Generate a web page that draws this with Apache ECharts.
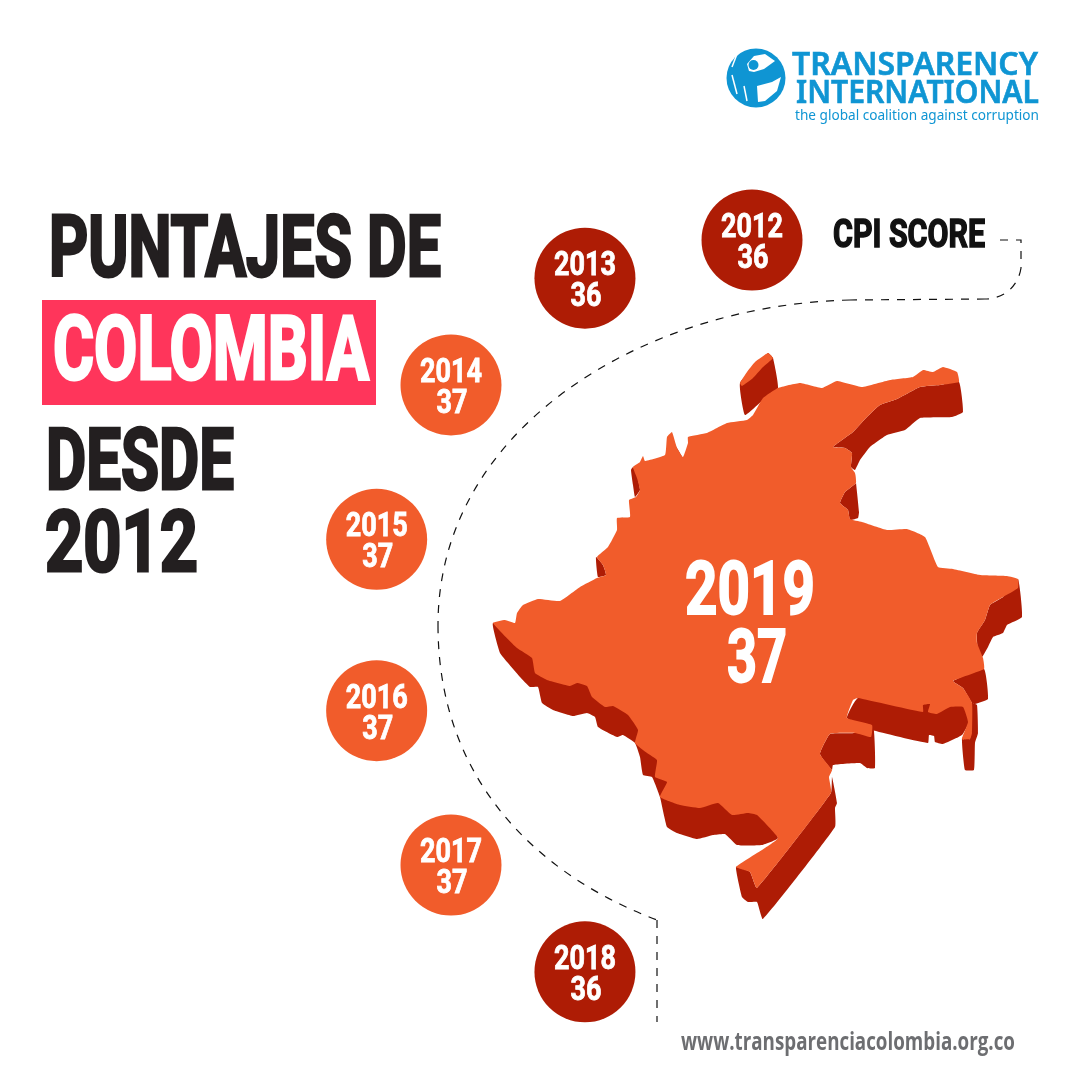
<!DOCTYPE html>
<html lang="es">
<head>
    <meta charset="UTF-8">
    <title>Puntajes de Colombia desde 2012</title>
    <script type="text/javascript" src="https://cdn.jsdelivr.net/npm/echarts@6/dist/echarts.min.js"></script>
    <style>html,body{margin:0;padding:0;background:#fff;}</style>
</head>
<body>
<div id="myChart" style="width:1080px;height:1080px;"></div>
<script type="text/javascript">
    var years = [2012, 2013, 2014, 2015, 2016, 2017, 2018]; // ring of circles
    var scores = [36, 36, 37, 37, 37, 37, 36];
    var mapYear = 2019; // year written on the map
    var mapScore = 37;

    var ORANGE = '#F15C2B', DARK = '#AE1C05', PINK = '#FF355B', INK = '#231F20', BLUE = '#0F95D3';
    var HEAVY = 'bold {s}px Roboto';

    // map outline: the side walls go under the top face
    var mapWalls = [
        [[493,623],[500,653],[508,663],[520,677],[530,687],[538,687],[542,703],[553,710],[573,716],[587,713],[595,717],[598,727],[617,737],[623,735],[635,743],[640,757],[643,775],[652,777],[660,797],[667,827],[677,833],[697,839],[713,835],[725,834],[737,845],[762,845],[778,838],[760,800],[650,700],[540,640]],
        [[736,867],[742,897],[748,902],[757,902],[763,919],[835,827],[835,808],[837,803],[832,777],[831,793],[757,888],[750,872]],
        [[830,734],[820,754],[832,770],[833,765],[860,763],[867,768],[875,768],[873,725],[855,733]],
        [[858,698],[847,718],[872,730],[928,743],[929,735],[934,736],[935,742],[943,744],[962,735],[969,722],[963,705],[923,700]],
        [[972,703],[977,705],[978,733],[975,743],[974,770],[965,770],[962,738],[970,739]],
        [[953,681],[984,669],[988,699],[975,704],[972,703],[963,688]],
        [[1018,579],[1022,617],[1007,625],[1003,633],[993,637],[988,647],[982,657],[978,653],[977,633],[985,620],[990,605],[1003,597]],
        [[959,382],[963,412],[952,417],[920,418],[905,430],[887,435],[870,447],[860,460],[855,470],[851,467],[852,453],[845,448],[833,447],[853,432],[867,417],[880,405],[897,399],[920,387],[940,385]],
        [[855,473],[859,512],[858,518],[850,520],[848,510],[840,503],[845,492],[856,483]],
        [[768,353],[773,358],[778,388],[763,400],[745,415],[740,383]],
        [[631,470],[633,485],[635,497],[640,490],[637,475],[633,467]],
        [[596,557],[598,577],[606,575],[603,565]],
        [[672,440],[677,448],[682,457],[675,456]]
    ];
    var mapTop = [[493,623],[505,620],[515,623],[517,613],[523,605],[538,599],[560,601],[580,587],[597,578],[606,575],[603,565],[597,557],[608,547],[617,530],[617,518],[630,517],[629,500],[636,497],[640,490],[637,478],[633,467],[640,462],[643,456],[645,461],[665,455],[667,437],[672,432],[677,448],[683,457],[688,443],[688,437],[707,433],[727,423],[747,420],[753,415],[763,398],[778,388],[800,383],[822,388],[837,381],[862,387],[890,380],[913,377],[923,370],[933,372],[943,367],[957,372],[959,382],[940,385],[920,387],[897,399],[880,405],[867,417],[853,432],[833,447],[845,448],[852,453],[851,467],[855,473],[856,483],[845,492],[840,503],[848,510],[850,519],[862,522],[887,530],[907,529],[925,537],[938,567],[953,569],[980,575],[1007,576],[1018,579],[1018,588],[1003,597],[990,605],[985,620],[977,633],[977,643],[983,658],[984,669],[953,681],[963,688],[972,703],[972,733],[970,739],[962,739],[968,722],[963,707],[950,707],[937,714],[928,712],[930,704],[923,705],[923,712],[858,698],[853,700],[847,718],[872,725],[871,737],[855,733],[830,734],[820,754],[832,770],[829,777],[831,793],[757,888],[750,872],[736,867],[765,848],[778,838],[757,815],[748,813],[732,815],[718,803],[700,808],[680,805],[660,797],[667,782],[655,777],[657,760],[647,753],[635,743],[638,730],[628,715],[613,706],[605,707],[592,697],[587,686],[577,683],[570,686],[547,680],[535,673],[532,658],[517,648]];
    var islandTop = [[740,383],[747,372],[755,362],[768,353],[773,358],[762,368],[753,378],[742,386]];

    // horizontal squeeze so a text fills the width it has in the picture
    var ctx = document.createElement('canvas').getContext('2d');
    function squeeze(str, font, width) {
        ctx.font = font;
        return width / ctx.measureText(str).width;
    }
    function text(str, font, left, width, midY, fill, bold) {
        return {
            type: 'text', z: 3, x: left, y: midY, scaleX: squeeze(str, font, width),
            style: {
                text: str, font: font, fill: fill, align: 'left', verticalAlign: 'middle',
                stroke: bold ? fill : null, lineWidth: bold || 0
            }
        };
    }
    // one centred line of a circle or map label
    function label(str, size, width, x, capY) {
        var font = HEAVY.replace('{s}', size);
        return {
            type: 'text', x: x, y: capY + size * 0.1, scaleX: squeeze(str, font, width),
            style: {
                text: str, font: font, fill: '#fff', align: 'center', verticalAlign: 'middle',
                stroke: '#fff', lineWidth: size / 40
            }
        };
    }
    function poly(points, fill) {
        return {type: 'polygon', z: 1, shape: {points: points, smooth: 0.12}, style: {fill: fill}};
    }
    var dash = {fill: null, stroke: '#111', lineWidth: 1.2, lineDash: [8, 8]};

    var graphics = [];
    mapWalls.forEach(function (p) { graphics.push(poly(p, DARK)); });
    graphics.push(poly(mapTop, ORANGE), poly(islandTop, ORANGE));

    // dashed guide around the circles
    graphics.push(
        {type: 'polyline', shape: {points: [[1000, 240], [1021, 240], [1021, 268]]}, style: dash},
        {type: 'bezierCurve', shape: {x1: 1021, y1: 268, cpx1: 1018, cpy1: 288, cpx2: 1002, cpy2: 299, x2: 985, y2: 299}, style: dash},
        {type: 'line', shape: {x1: 985, y1: 299, x2: 850, y2: 300}, style: dash},
        {type: 'bezierCurve', shape: {x1: 850, y1: 300, cpx1: 640, cpy1: 305, cpx2: 438, cpy2: 430, x2: 438, y2: 625}, style: dash},
        {type: 'bezierCurve', shape: {x1: 438, y1: 625, cpx1: 438, cpy1: 790, cpx2: 550, cpy2: 880, x2: 657, y2: 920}, style: dash},
        {type: 'line', shape: {x1: 657, y1: 920, x2: 657, y2: 1022}, style: dash}
    );

    // title block
    graphics.push(
        {type: 'rect', shape: {x: 42, y: 300, width: 334, height: 105}, style: {fill: PINK}},
        text('PUNTAJES DE', 'bold 85px Roboto', 49, 392, 255, INK, 3),
        text('COLOMBIA', 'bold 89px Roboto', 53, 316, 357, '#fff', 3),
        text('DESDE', 'bold 85px Roboto', 46, 188, 468, INK, 3),
        text('2012', 'bold 85px Roboto', 45, 153, 550, INK, 3),
        text('CPI SCORE', 'bold 39px Roboto', 833, 152, 237, '#111', 1.5),
        text('www.transparenciacolombia.org.co', 'bold 25px "Open Sans"', 681, 334, 1043, '#6D6E71')
    );

    // logo
    graphics.push(
        {type: 'circle', z: 2, shape: {cx: 756, cy: 78, r: 29.5}, style: {fill: BLUE}},
        {type: 'polygon', z: 2, shape: {points: [[747,64],[754,56],[765,54],[775,61],[764,69],[754,72],[749,71]]}, style: {fill: '#fff'}},
        {type: 'polygon', z: 2, shape: {points: [[757,86],[772,82],[781,77],[777,91],[765,101],[758,102]]}, style: {fill: '#fff'}},
        {type: 'circle', z: 2, shape: {cx: 753.5, cy: 65, r: 5}, style: {fill: BLUE}},
        {type: 'line', z: 2, shape: {x1: 737, y1: 54, x2: 732, y2: 67}, style: {stroke: '#fff', lineWidth: 1.5}},
        {type: 'line', z: 2, shape: {x1: 732, y1: 75, x2: 737, y2: 94}, style: {stroke: '#fff', lineWidth: 1.5}},
        {type: 'line', z: 2, shape: {x1: 744, y1: 86, x2: 747, y2: 101}, style: {stroke: '#fff', lineWidth: 1.5}},
        text('TRANSPARENCY', '600 32px "Noto Sans"', 792, 246, 66, BLUE, 0.6),
        text('INTERNATIONAL', '600 32px "Noto Sans"', 796, 243, 94, BLUE, 0.6),
        text('the global coalition against corruption', '15px "Noto Sans"', 795, 244, 116, BLUE)
    );

    var myChart = echarts.init(document.getElementById('myChart'));
    var option = {
        backgroundColor: '#fff',
        animation: false,
        // polar system centred on the map: one turn is 14 years
        polar: {center: [752, 625], radius: 385},
        angleAxis: {type: 'value', min: 2012, max: 2026, startAngle: 90, clockwise: false, show: false},
        radiusAxis: {type: 'value', min: 0, max: 1, show: false},
        graphic: graphics,
        series: [
            {
                type: 'custom',
                coordinateSystem: 'polar',
                z: 4,
                data: years.map(function (y, i) { return [1, y, scores[i]]; }),
                renderItem: function (params, api) {
                    var p = api.coord([api.value(0), api.value(1)]);
                    var score = api.value(2);
                    return {
                        type: 'group',
                        children: [
                            {type: 'circle', shape: {cx: p[0], cy: p[1], r: 50.5}, style: {fill: score < 37 ? DARK : ORANGE}},
                            label(String(api.value(1)), 34, 62, p[0], p[1] - 15),
                            label(String(score), 34, 31, p[0] + 1, p[1] + 16)
                        ]
                    };
                }
            },
            {
                type: 'custom',
                coordinateSystem: 'polar',
                z: 4,
                data: [[0, mapYear, mapScore]],
                renderItem: function (params, api) {
                    var p = api.coord([api.value(0), api.value(1)]);
                    return {
                        type: 'group',
                        children: [
                            label(String(api.value(1)), 75, 130, p[0] - 2, p[1] - 37),
                            label(String(api.value(2)), 75, 60, p[0] + 5, p[1] + 31)
                        ]
                    };
                }
            }
        ]
    };
    myChart.setOption(option);
</script>
</body>
</html>
